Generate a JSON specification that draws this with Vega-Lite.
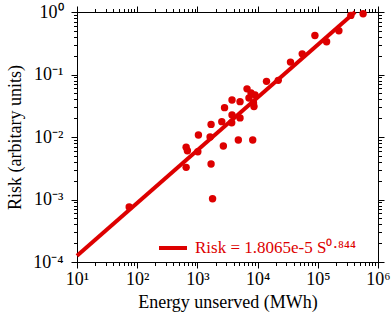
{
  "$schema": "https://vega.github.io/schema/vega-lite/v6.json",
  "autosize": {"type": "none"},
  "padding": {"left": 77, "top": 12, "right": 13, "bottom": 61},
  "width": 301,
  "height": 250,
  "background": "white",
  "config": {
    "view": {"stroke": "black", "strokeWidth": 1},
    "font": "Liberation Serif",
    "axis": {
      "grid": false,
      "domainColor": "black",
      "tickColor": "black",
      "labelColor": "black",
      "titleColor": "black",
      "labelFont": "Liberation Serif",
      "titleFont": "Liberation Serif",
      "labelFontSize": 18,
      "titleFontSize": 18,
      "titleFontWeight": "normal",
      "labelFlush": false,
      "labelOverlap": false
    }
  },
  "datasets": {
    "pts": [
      {"S": 73.6, "Risk": 0.000762},
      {"S": 650, "Risk": 0.00684},
      {"S": 682, "Risk": 0.00603},
      {"S": 650, "Risk": 0.00327},
      {"S": 1016, "Risk": 0.00581},
      {"S": 1040, "Risk": 0.01076},
      {"S": 1626, "Risk": 0.0100},
      {"S": 1687, "Risk": 0.00369},
      {"S": 1786, "Risk": 0.00103},
      {"S": 1687, "Risk": 0.0159},
      {"S": 2699, "Risk": 0.00717},
      {"S": 2541, "Risk": 0.0176},
      {"S": 2825, "Risk": 0.0295},
      {"S": 3715, "Risk": 0.01695},
      {"S": 3758, "Risk": 0.02254},
      {"S": 3758, "Risk": 0.0392},
      {"S": 5105, "Risk": 0.0368},
      {"S": 5105, "Risk": 0.0202},
      {"S": 4786, "Risk": 0.00895},
      {"S": 8300, "Risk": 0.00895},
      {"S": 6670, "Risk": 0.0589},
      {"S": 7780, "Risk": 0.0508},
      {"S": 9060, "Risk": 0.0472},
      {"S": 7190, "Risk": 0.0422},
      {"S": 8550, "Risk": 0.0351},
      {"S": 8710, "Risk": 0.0308},
      {"S": 14060, "Risk": 0.0777},
      {"S": 22030, "Risk": 0.0806},
      {"S": 35160, "Risk": 0.158},
      {"S": 55080, "Risk": 0.214},
      {"S": 89550, "Risk": 0.421},
      {"S": 140000, "Risk": 0.334},
      {"S": 223900, "Risk": 0.501},
      {"S": 354000, "Risk": 0.882},
      {"S": 566000, "Risk": 0.939}
    ],
    "fit": [
      {"S": 10, "Risk": 0.000126, "series": "Risk = 1.8065e-5 S⁰·⁸⁴⁴"},
      {"S": 417000, "Risk": 1.0, "series": "Risk = 1.8065e-5 S⁰·⁸⁴⁴"}
    ]
  },
  "resolve": {"axis": {"x": "independent", "y": "independent"}},
  "layer": [
    {
      "data": {"name": "pts"},
      "mark": {"type": "circle", "size": 55, "opacity": 1, "color": "#dd0000"},
      "encoding": {
        "x": {
          "field": "S", "type": "quantitative",
          "scale": {"type": "log", "domain": [10, 1000000], "nice": false},
          "axis": {
            "orient": "bottom",
            "title": "Energy unserved (MWh)",
            "titlePadding": 5,
            "values": [10,20,30,40,50,60,70,80,90,100,200,300,400,500,600,700,800,900,1000,2000,3000,4000,5000,6000,7000,8000,9000,10000,20000,30000,40000,50000,60000,70000,80000,90000,100000,200000,300000,400000,500000,600000,700000,800000,900000,1000000],
            "labelExpr": "abs(log(datum.value)/LN10 - round(log(datum.value)/LN10)) < 1e-6 ? '10' + ['⁰','¹','²','³','⁴','⁵','⁶'][round(log(datum.value)/LN10)] : ''",
            "tickSize": {"condition": {"test": "abs(log(datum.value)/LN10 - round(log(datum.value)/LN10)) < 1e-6", "value": 6}, "value": 3.5},
            "labelPadding": 2
          }
        },
        "y": {
          "field": "Risk", "type": "quantitative",
          "scale": {"type": "log", "domain": [0.0001, 1], "nice": false},
          "axis": {
            "orient": "left",
            "title": "Risk (arbitary units)",
            "titlePadding": 8,
            "values": [0.0001,0.0002,0.0003,0.0004,0.0005,0.0006,0.0007,0.0008,0.0009,0.001,0.002,0.003,0.004,0.005,0.006,0.007,0.008,0.009,0.01,0.02,0.03,0.04,0.05,0.06,0.07,0.08,0.09,0.1,0.2,0.3,0.4,0.5,0.6,0.7,0.8,0.9,1],
            "labelExpr": "abs(log(datum.value)/LN10 - round(log(datum.value)/LN10)) < 1e-6 ? '10' + (round(log(datum.value)/LN10) < 0 ? '⁻' : '') + ['⁰','¹','²','³','⁴','⁵','⁶'][abs(round(log(datum.value)/LN10))] : ''",
            "tickSize": {"condition": {"test": "abs(log(datum.value)/LN10 - round(log(datum.value)/LN10)) < 1e-6", "value": 6}, "value": 3.5},
            "labelPadding": 8
          }
        }
      }
    },
    {
      "data": {"name": "fit"},
      "mark": {"type": "line", "strokeWidth": 4},
      "encoding": {
        "x": {
          "field": "S", "type": "quantitative",
          "scale": {"type": "log", "domain": [10, 1000000], "nice": false},
          "axis": {
            "orient": "top", "title": null, "labels": false,
            "values": [10,20,30,40,50,60,70,80,90,100,200,300,400,500,600,700,800,900,1000,2000,3000,4000,5000,6000,7000,8000,9000,10000,20000,30000,40000,50000,60000,70000,80000,90000,100000,200000,300000,400000,500000,600000,700000,800000,900000,1000000],
            "tickSize": {"condition": {"test": "abs(log(datum.value)/LN10 - round(log(datum.value)/LN10)) < 1e-6", "value": 6}, "value": 3.5}
          }
        },
        "y": {
          "field": "Risk", "type": "quantitative",
          "scale": {"type": "log", "domain": [0.0001, 1], "nice": false},
          "axis": {
            "orient": "right", "title": null, "labels": false,
            "values": [0.0001,0.0002,0.0003,0.0004,0.0005,0.0006,0.0007,0.0008,0.0009,0.001,0.002,0.003,0.004,0.005,0.006,0.007,0.008,0.009,0.01,0.02,0.03,0.04,0.05,0.06,0.07,0.08,0.09,0.1,0.2,0.3,0.4,0.5,0.6,0.7,0.8,0.9,1],
            "tickSize": {"condition": {"test": "abs(log(datum.value)/LN10 - round(log(datum.value)/LN10)) < 1e-6", "value": 6}, "value": 3.5}
          }
        },
        "color": {
          "field": "series", "type": "nominal",
          "scale": {"range": ["#dd0000"]},
          "legend": {
            "title": null,
            "orient": "none",
            "legendX": 80,
            "legendY": 220,
            "symbolType": "stroke",
            "symbolSize": 784,
            "symbolStrokeWidth": 4,
            "labelFont": "Liberation Serif",
            "labelFontSize": 17,
            "labelColor": "#dd0000",
            "labelOffset": 6,
            "labelLimit": 300,
            "padding": 0
          }
        }
      }
    }
  ]
}
